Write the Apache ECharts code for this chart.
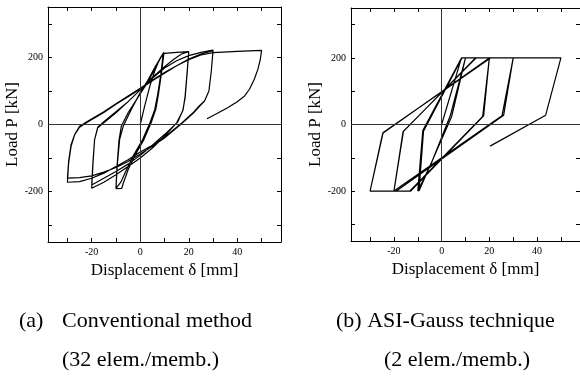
<!DOCTYPE html>
<html>
<head>
<meta charset="utf-8">
<script src="https://cdn.jsdelivr.net/npm/echarts@6/dist/echarts.min.js"></script>
<style>
  html, body { margin: 0; padding: 0; background: #fff; }
  #chart { width: 580px; height: 381px; }
</style>
</head>
<body>
<div id="chart"></div>
<script>
// axis ticks and labels
const xTicks = [-30, -20, -10, 0, 10, 20, 30, 40, 50];
const xLabels = [-20, 0, 20, 40];
const yTicks = [-300, -200, -100, 0, 100, 200, 300];
const yLabels = [-200, 0, 200];

// (a) conventional method: displacement [mm], load [kN], in loading order
const convPath = [
  [0, 0], [2, 60], [4, 115], [6, 160], [8, 195], [9.5, 213],
  [8.5, 150], [7.2, 90], [6, 45], [4, 5], [1, -45], [-3, -95], [-6, -140], [-8, -172], [-10, -190],
  [-9.6, -130], [-8.8, -50], [-7.8, -5], [-5, 35], [-1, 80], [3, 125], [6, 165], [8.5, 200], [9.8, 215],
  [8.8, 155], [7.5, 90], [6.4, 45], [4.5, 5], [1.5, -45], [-2, -90], [-5, -135], [-7, -175], [-7.6, -190], [-10, -191],
  [-9.5, -125], [-8.5, -45], [-7, -5], [-4, 40], [0, 95], [3, 130], [6, 170], [8.5, 200], [10, 212], [15, 215], [20, 217],
  [19.3, 150], [18.5, 80], [17.5, 40], [15, 5], [10, -35], [5, -70], [0, -100], [-5, -125], [-10, -150], [-15, -172], [-20, -190],
  [-19.5, -120], [-18.8, -45], [-17.5, -8], [-15, 8], [-10, 38], [-5, 68], [0, 103], [5, 140], [10, 172], [14, 195], [17, 210], [20, 217],
  [19.3, 155], [18.5, 85], [17.7, 45], [15.5, 8], [10, -30], [5, -62], [0, -92], [-5, -118], [-10, -140], [-15, -160], [-20, -180],
  [-19.5, -115], [-18.8, -45], [-17.5, -10], [-15, 5], [-10, 35], [-5, 68], [0, 103], [5, 138], [10, 168], [15, 190], [20, 205], [25, 215], [30, 222],
  [29.3, 160], [28.3, 100], [26.5, 70], [24.5, 55], [22, 35], [17, 2], [10, -40], [5, -65], [0, -88], [-5, -110], [-10, -128], [-15, -142], [-20, -153], [-25, -158], [-30, -160],
  [-29.5, -110], [-28.5, -60], [-27, -30], [-25, -5], [-22, 8], [-15, 38], [-10, 62], [-5, 85], [0, 108], [5, 132], [10, 155], [15, 175], [20, 195], [25, 210], [30, 220],
  [29.3, 160], [28.3, 100], [26.5, 70], [24.5, 57], [22, 37], [17, 4], [10, -38], [5, -62], [0, -82], [-5, -105], [-10, -125], [-15, -145], [-20, -160], [-25, -170], [-30, -172],
  [-29.5, -115], [-28.5, -65], [-27, -30], [-25, -8], [-22, 6], [-15, 36], [-10, 60], [-5, 83], [0, 106], [5, 130], [10, 153], [15, 175], [20, 193], [25, 207], [30, 214], [40, 218], [50, 221],
  [49.5, 195], [48.5, 165], [47, 135], [45, 105], [43, 85], [40, 68], [36, 50], [32, 34], [27.5, 17]
];

// (b) ASI-Gauss technique
const asiPath = [
  [0, 0], [8.3, 200], [10, 200],
  [3.6, 26], [-4.4, -118], [-10, -200],
  [-7.9, -18], [8.3, 200], [10, 200],
  [4.2, 24], [-9.5, -200], [-10, -200],
  [-7.6, -20], [8.5, 200], [20, 200],
  [17.2, 24], [-13.4, -200], [-20, -200],
  [-16.2, -22], [14.2, 200], [20, 200],
  [17.6, 26], [-13, -200], [-20, -200],
  [-16, -20], [14.5, 200], [30, 200],
  [25.3, 26], [-20, -200], [-30, -200],
  [-24.7, -26], [20, 200], [30, 200],
  [26, 28], [-19, -200], [-30, -200],
  [-24.5, -24], [20.5, 200], [50, 200],
  [43.6, 28], [20.3, -65]
];

const serif = '"Liberation Serif", "Times New Roman", serif';
const chart = echarts.init(document.getElementById('chart'), null, { renderer: 'canvas' });

const grids = [
  { left: 48, top: 7, width: 233, height: 235 },
  { left: 351, top: 8, width: 230, height: 233 },
];

const xAxes = [];
const yAxes = [];
grids.forEach((g, i) => {
  const tick = { show: true, inside: true, length: 4, lineStyle: { color: '#000' } };
  const line = { show: true, onZero: false, lineStyle: { color: '#000', width: 1 } };
  xAxes.push({
    type: 'value', gridIndex: i, position: 'bottom', min: -38, max: 58,
    axisLine: line,
    axisTick: Object.assign({ customValues: xTicks }, tick),
    axisLabel: { customValues: xLabels, fontFamily: serif, fontSize: 10, color: '#000', margin: 5 },
    splitLine: { show: false },
    name: 'Displacement δ [mm]', nameLocation: 'middle', nameGap: 15,
    nameTextStyle: { fontFamily: serif, fontSize: 17, color: '#000' },
  });
  xAxes.push({
    type: 'value', gridIndex: i, position: 'top', min: -38, max: 58,
    axisLine: line,
    axisTick: Object.assign({ customValues: xTicks }, tick),
    axisLabel: { show: false },
    splitLine: { show: false },
  });
  yAxes.push({
    type: 'value', gridIndex: i, position: 'left', min: -350, max: 350,
    axisLine: line,
    axisTick: Object.assign({ customValues: yTicks }, tick),
    axisLabel: { customValues: yLabels, fontFamily: serif, fontSize: 10, color: '#000', margin: 5 },
    splitLine: { show: false },
    name: 'Load P [kN]', nameLocation: 'middle', nameGap: 27,
    nameTextStyle: { fontFamily: serif, fontSize: 17, color: '#000' },
  });
  yAxes.push({
    type: 'value', gridIndex: i, position: 'right', min: -350, max: 350,
    axisLine: line,
    axisTick: Object.assign({ customValues: yTicks }, tick),
    axisLabel: { show: false },
    splitLine: { show: false },
  });
});

function curve(data, i) {
  return {
    type: 'line', data: data, xAxisIndex: i * 2, yAxisIndex: i * 2,
    showSymbol: false, symbol: 'none', silent: true,
    lineStyle: { color: '#000', width: 1.2 },
    markLine: {
      silent: true, symbol: 'none', label: { show: false },
      lineStyle: { color: '#333', width: 1, type: 'solid' },
      data: [{ xAxis: 0 }, { yAxis: 0 }],
    },
  };
}

const capStyle = { fontFamily: serif, fontSize: 22, fill: '#000' };
function cap(x, y, text) {
  return { type: 'text', left: x, top: y, style: Object.assign({ text: text }, capStyle) };
}

chart.setOption({
  animation: false,
  grid: grids,
  xAxis: xAxes,
  yAxis: yAxes,
  series: [curve(convPath, 0), curve(asiPath, 1)],
  graphic: [
    cap(19, 310, '(a)'),
    cap(62, 310, 'Conventional method'),
    cap(336, 310, '(b) ASI-Gauss technique'),
    cap(62, 349, '(32 elem./memb.)'),
    cap(384, 349, '(2 elem./memb.)'),
  ],
});
</script>
</body>
</html>
